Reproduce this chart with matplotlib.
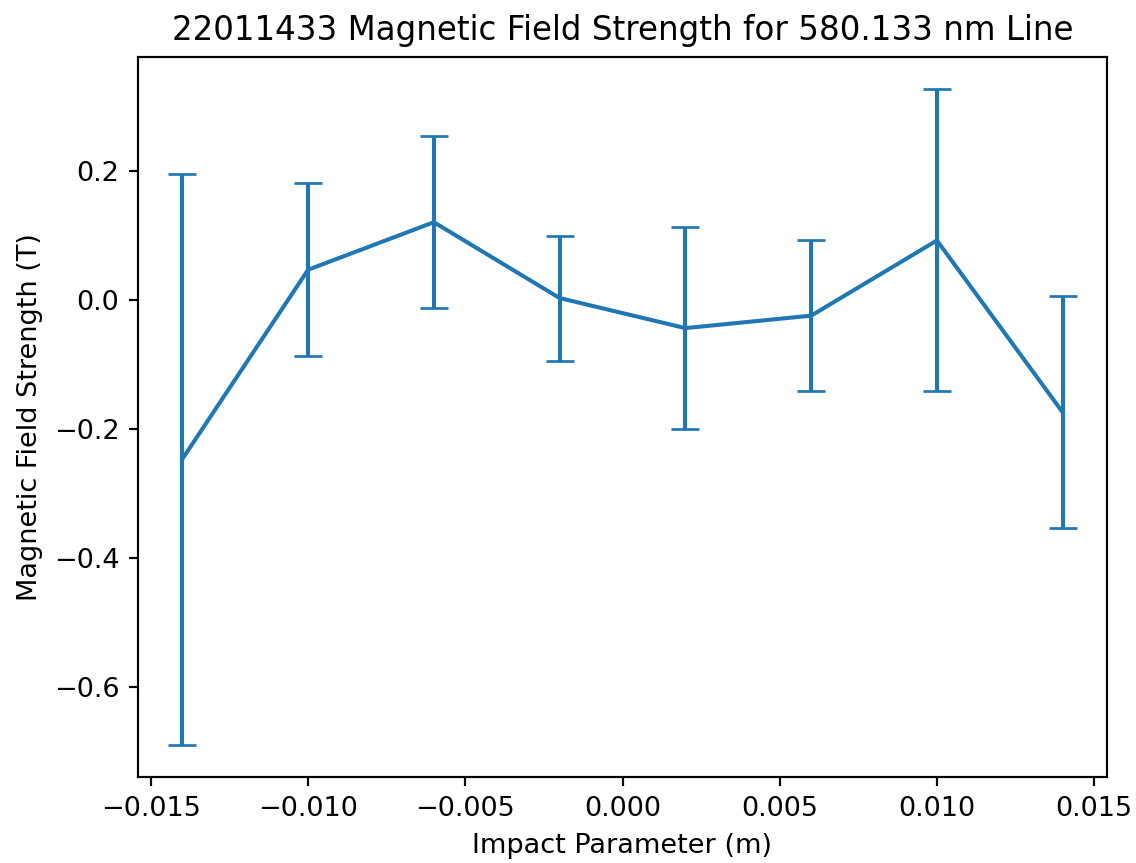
import matplotlib
matplotlib.use("Agg")
import matplotlib.pyplot as plt
import numpy as np

# Impact parameter positions (m)
impact_parameter = [-0.014, -0.010, -0.006, -0.002, 0.002, 0.006, 0.010, 0.014]
# Fitted magnetic field strength (T) and its uncertainty
field_strength = [-0.2466, 0.0469, 0.1206, 0.0030, -0.0436, -0.0243, 0.0923, -0.1741]
field_error = [0.4426, 0.1340, 0.1330, 0.0969, 0.1560, 0.1175, 0.2341, 0.1797]

dpi = 195
fig = plt.figure(figsize=(1136 / dpi, 863 / dpi), dpi=dpi)
ax = fig.add_axes([138.3 / 1136, (863 - 777.3) / 863, 968.4 / 1136, 720.6 / 863])

ax.errorbar(impact_parameter, field_strength, yerr=field_error, capsize=5)

ax.set_title("22011433 Magnetic Field Strength for 580.133 nm Line")
ax.set_xlabel("Impact Parameter (m)")
ax.set_ylabel("Magnetic Field Strength (T)")

fig.savefig("out.png", dpi=dpi)
